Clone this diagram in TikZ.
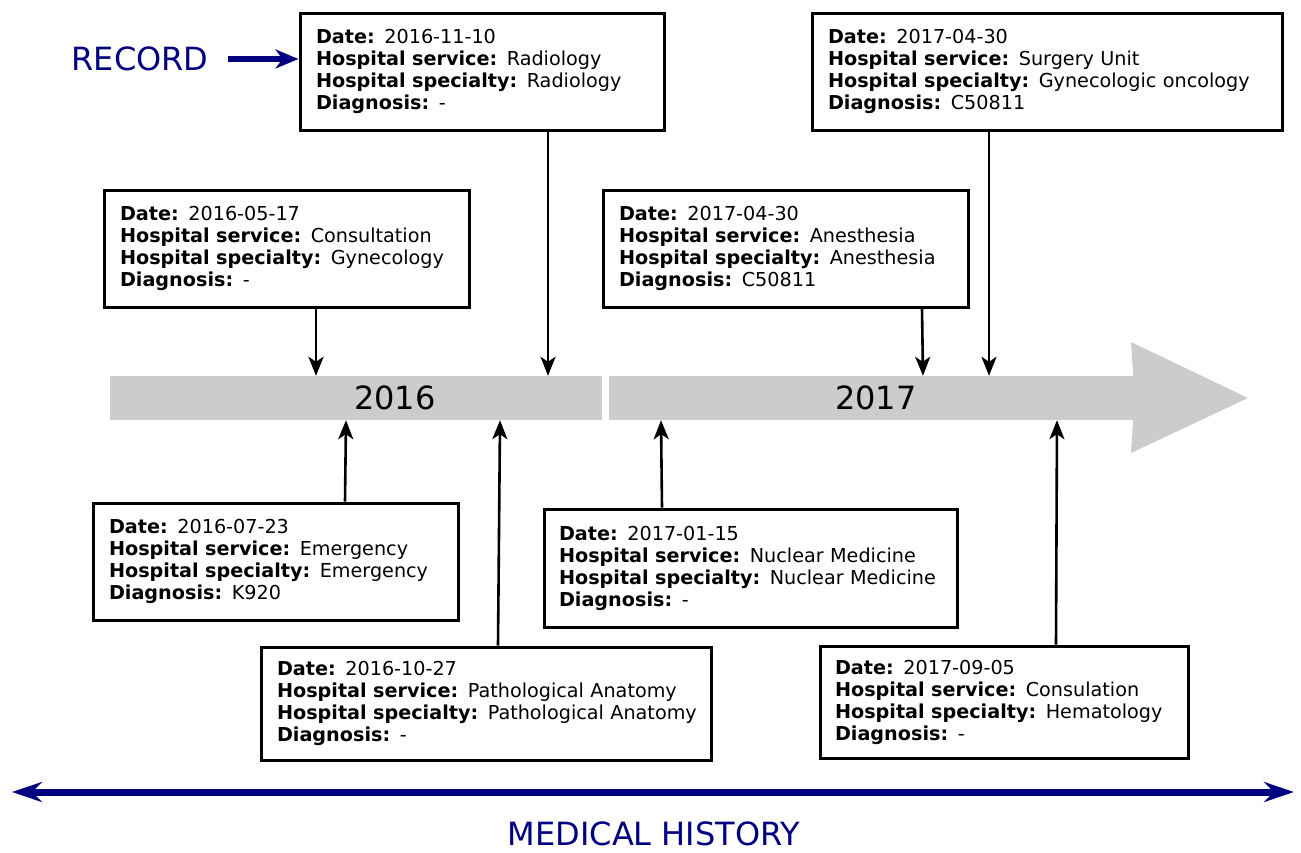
\documentclass[tikz,border=0pt]{standalone}
\usepackage{fontspec}
\setmainfont{DejaVu Sans}
\usetikzlibrary{arrows.meta}
\definecolor{navyc}{RGB}{0,0,128}
\definecolor{barc}{RGB}{204,204,204}
\newcommand{\visitinfo}[4]{\mbox{\textbf{Date:} #1}\\\mbox{\textbf{Hospital service:} #2}\\\mbox{\textbf{Hospital specialty:} #3}\\\mbox{\textbf{Diagnosis:} #4}}
\begin{document}
\begin{tikzpicture}[x=1pt,y=-1pt,
  recbox/.style={draw,line width=3pt,fill=white,align=left,inner xsep=16pt,inner ysep=0pt,
    font=\fontsize{19.2}{22}\selectfont,anchor=center},
  conn/.style={line width=2.6pt,-{Stealth[length=19pt,width=15pt,inset=5pt]}},
  navyarrow/.style={navyc,line width=6pt,-{Stealth[length=23pt,width=19pt,inset=7pt]}},
  bigtext/.style={navyc,font=\fontsize{32}{36}\selectfont},
  yeartext/.style={font=\fontsize{32}{36}\selectfont},
  barseg/.style={fill=barc,draw=none,inner sep=0pt}]
\useasboundingbox (0,0) rectangle (1301,852);

% timeline bar
\node[barseg,minimum width=492pt,minimum height=44pt] (bar16) at (356,398) {};
\node[barseg,minimum width=524pt,minimum height=44pt] (bar17) at (871,398) {};
\fill[barc] (bar17.north east) -- (1131,342) -- (1248,398) -- (1131,453) -- (bar17.south east) -- cycle;
\node[yeartext] (y16) at (395,398) {2016};
\node[yeartext] (y17) at (876,398) {2017};

% boxes
\node[recbox,minimum width=364pt,minimum height=117pt,text width=332pt] (b1) at (482,71.5)
  {\visitinfo{2016-11-10}{Radiology}{Radiology}{-}};
\node[recbox,minimum width=365pt,minimum height=117pt,text width=333pt] (b2) at (286.5,248.5)
  {\visitinfo{2016-05-17}{Consultation}{Gynecology}{-}};
\node[recbox,minimum width=365pt,minimum height=117pt,text width=333pt] (b3) at (785.5,248.5)
  {\visitinfo{2017-04-30}{Anesthesia}{Anesthesia}{C50811}};
\node[recbox,minimum width=470pt,minimum height=117pt,text width=438pt] (b4) at (1047,71.5)
  {\visitinfo{2017-04-30}{Surgery Unit}{Gynecologic oncology}{C50811}};
\node[recbox,minimum width=365pt,minimum height=117pt,text width=333pt] (b5) at (275.5,561.5)
  {\visitinfo{2016-07-23}{Emergency}{Emergency}{K920}};
\node[recbox,minimum width=450pt,minimum height=113pt,text width=418pt] (b6) at (486,703.5)
  {\visitinfo{2016-10-27}{Pathological Anatomy}{Pathological Anatomy}{-}};
\node[recbox,minimum width=413pt,minimum height=118pt,text width=383pt,inner xsep=15pt] (b7) at (750.5,568)
  {\visitinfo{2017-01-15}{Nuclear Medicine}{Nuclear Medicine}{-}};
\node[recbox,minimum width=368pt,minimum height=112pt,text width=338pt,inner xsep=15pt] (b8) at (1004,702)
  {\visitinfo{2017-09-05}{Consulation}{Hematology}{-}};

% connectors
\draw[conn] (316,0 |- b2.south) -- (316,0 |- bar16.north);
\draw[conn] (548,0 |- b1.south) -- (548,0 |- bar16.north);
\draw[conn] (922,0 |- b3.south) -- (923,0 |- bar17.north);
\draw[conn] (989,0 |- b4.south) -- (989,0 |- bar17.north);
\draw[conn] (345,0 |- b5.north) -- (346,0 |- bar16.south);
\draw[conn] (498,0 |- b6.north) -- (500,0 |- bar16.south);
\draw[conn] (662,0 |- b7.north) -- (661,0 |- bar17.south);
\draw[conn] (1056,0 |- b8.north) -- (1057,0 |- bar17.south);

% record label
\node[bigtext] (rec) at (140,59) {RECORD};
\draw[navyarrow] ([xshift=16pt]rec.east) -- (rec.east -| b1.west);

% medical history
\coordinate (mhL) at (12,792);
\coordinate (mhR) at (1294,792);
\draw[navyc,line width=7pt,{Stealth[length=30pt,width=20pt,inset=10pt]}-{Stealth[length=30pt,width=20pt,inset=10pt]}] (mhL) -- (mhR);
\node[bigtext] (mh) at (654,834) {MEDICAL HISTORY};
\end{tikzpicture}
\end{document}
